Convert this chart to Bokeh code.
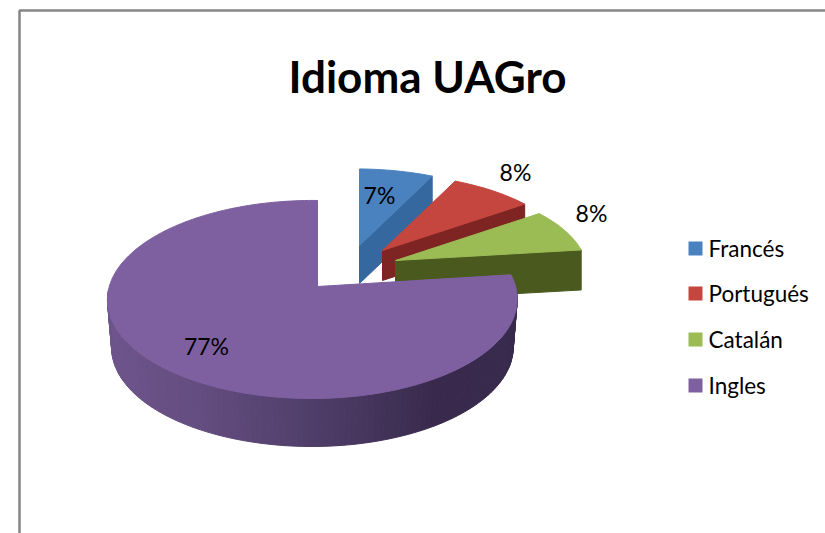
import numpy as np
from bokeh.plotting import figure
from bokeh.embed import file_html
from bokeh.resources import INLINE
from bokeh.core.properties import value

title = "Idioma UAGro"
categories = ["Francés", "Portugués", "Catalán", "Ingles"]
values = [7, 8, 8, 77]
top_colors = ["#4a82bf", "#c4463f", "#9bbb55", "#7e60a0"]
side_colors = ["#34689f", "#7e2422", "#4a5a1f", None]

# layout: the plot works in page pixels
PX, PY, PW, PH = 0, 0, 825, 533
vertices = [(359, 245), (382, 250), (395, 260), (317, 286)]
scales = [(0.95, 0.89), (0.95, 0.89), (0.96, 0.9), (1.0, 1.0)]
depths = [38, 30, 40, 48]
label_pos = [(379, 194), (515, 171), (591, 212), (206, 345)]
legend_y = [248, 293, 339, 385]


def project(deg):
    """Perspective view of a unit disc, angle clockwise from the top."""
    a = np.radians(deg)
    u, v = np.sin(a), -np.cos(a)
    w = 1 - 0.131 * v + 0.025 * u
    return 203 * u / w, 97.3 * v / w


p = figure(width=PW, height=PH, x_range=(PX, PX + PW), y_range=(PY + PH, PY),
           output_backend="svg", toolbar_location=None, min_border=0)
p.xaxis.visible = False
p.yaxis.visible = False
p.grid.visible = False
p.outline_line_color = None
p.background_fill_color = "white"

# frame: left and top edges only, the crop cuts the rest
p.line([19, 19, PW], [PY + PH, 10, 10], line_color="#868686", line_width=2.5)

edges = np.concatenate([[0], np.cumsum(values)]) * 3.6
for i in range(3):
    vx, vy = vertices[i]
    sx, sy = scales[i]
    d = depths[i]
    ang = np.linspace(edges[i], edges[i + 1], 30)
    x, y = project(ang)
    x, y = vx + sx * x, vy + sy * y
    # face of the clockwise cut
    p.patch([vx, x[-1], x[-1], vx], [vy, y[-1], y[-1] + d, vy + d],
            fill_color=side_colors[i], line_color=side_colors[i])
    p.patch(np.r_[vx, x], np.r_[vy, y], fill_color=top_colors[i], line_color=top_colors[i])

# big wedge: shaded rim, then the top face
vx, vy = vertices[3]
d = depths[3]
rim = np.linspace(92, 268, 120)
xs, ys, cols = [], [], []
shade_x = [107, 200, 300, 430, 518]
shade_r = [0x6e, 0x64, 0x52, 0x3a, 0x38]
shade_g = [0x55, 0x4d, 0x40, 0x2b, 0x2a]
shade_b = [0x8c, 0x80, 0x6c, 0x4e, 0x4c]
for a0, a1 in zip(rim[:-1], rim[1:]):
    x0, y0 = project(a0)
    x1, y1 = project(a1)
    sx0, sy0 = vx + x0, vy + y0
    sx1, sy1 = vx + x1, vy + y1
    bx0, bx1 = vx + 0.98 * x0, vx + 0.98 * x1
    xs.append([sx0, sx1, bx1, bx0])
    ys.append([sy0, sy1, sy1 + d, sy0 + d])
    m = (sx0 + sx1) / 2
    cols.append("#%02x%02x%02x" % (int(np.interp(m, shade_x, shade_r)),
                                   int(np.interp(m, shade_x, shade_g)),
                                   int(np.interp(m, shade_x, shade_b))))
p.patches(xs, ys, fill_color=cols, line_color=cols, line_width=1)
ang = np.linspace(edges[3], edges[4], 200)
x, y = project(ang)
p.patch(np.r_[vx, vx + x], np.r_[vy, vy + y], fill_color=top_colors[3], line_color=top_colors[3])

# data labels
p.text([q[0] for q in label_pos], [q[1] for q in label_pos], text=[f"{v}%" for v in values],
       text_font=value("Lato"), text_font_size="23px", text_color="#000000",
       text_align="center", text_baseline="middle")

# legend
p.scatter([695] * 4, legend_y, marker="square", size=14, fill_color=top_colors, line_color=None)
p.text([708] * 4, legend_y, text=categories, text_font=value("Lato"), text_font_size="22.5px",
       text_color="#000000", text_align="left", text_baseline="middle")

# title
p.text([427], [75], text=[title], text_font=value("Lato"), text_font_size="44px",
       text_font_style="bold", text_color="#000000", text_align="center", text_baseline="alphabetic")

open("out.html", "w").write(file_html(p, INLINE))
